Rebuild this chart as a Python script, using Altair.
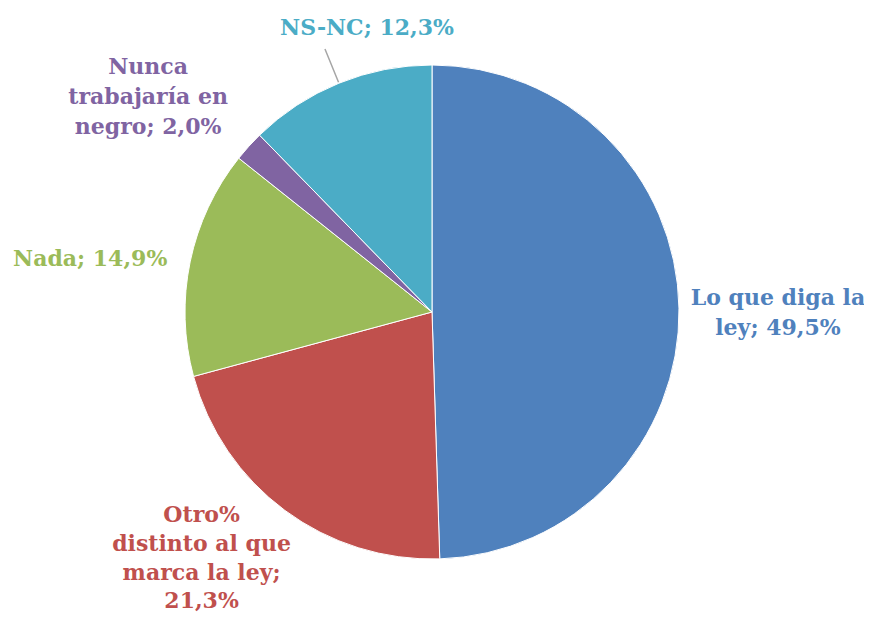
import altair as alt
import pandas as pd

categories = ["Lo que diga la ley", "Otro% distinto al que marca la ley", "Nada",
              "Nunca trabajaría en negro", "NS-NC"]
values = [49.5, 21.3, 14.9, 2.0, 12.3]
labels = ["Lo que diga la\nley; 49,5%", "Otro%\ndistinto al que\nmarca la ley;\n21,3%",
          "Nada; 14,9%", "Nunca\ntrabajaría en\nnegro; 2,0%", "NS-NC; 12,3%"]
colors = ["#4F81BD", "#C0504D", "#9BBB59", "#8064A2", "#4BACC6"]

df = pd.DataFrame({"cat": categories, "value": values, "label": labels,
                   "idx": list(range(len(categories)))})

theta_scale = alt.Scale(domain=[0, 100])
color = alt.Color("cat:N", scale=alt.Scale(domain=categories, range=colors), legend=None)

base = alt.Chart(df)
pie = base.mark_arc(outerRadius=247, stroke="white", strokeWidth=1).encode(
    theta=alt.Theta("value:Q", stack=True, scale=theta_scale),
    color=color,
    order=alt.Order("idx:O"),
)

lab = base.transform_window(
    cum="sum(value)", sort=[alt.SortField("idx")]
).transform_calculate(mid="datum.cum - datum.value / 2")

leader = lab.transform_filter(alt.datum.cat == "NS-NC").mark_arc(
    radius=248, radius2=284, stroke="#A6A6A6", strokeWidth=1.5, fillOpacity=0
).encode(
    theta=alt.Theta("mid:Q", stack=False, scale=theta_scale),
    theta2="mid:Q",
)

offsets = {
    "Lo que diga la ley": (1, -9, 30),
    "Otro% distinto al que marca la ley": (-25, -74, 28.7),
    "Nada": (-4, 17, 30),
    "Nunca trabajaría en negro": (-28, -14, 30),
    "NS-NC": (65, 36, 30),
}

texts = []
for c in categories:
    dx, dy, lh = offsets[c]
    texts.append(
        lab.transform_filter(alt.datum.cat == c).mark_text(
            radius=345, dx=dx, dy=dy, font="DejaVu Serif", fontWeight="bold",
            fontSize=22, lineBreak="\n", lineHeight=lh, align="center", baseline="middle"
        ).encode(
            theta=alt.Theta("mid:Q", stack=False, scale=theta_scale),
            text="label:N",
            color=color,
        )
    )

chart = alt.layer(pie, leader, *texts).properties(
    width=848, height=602,
    padding={"top": 3, "left": 0, "right": 8, "bottom": 0},
    autosize=alt.AutoSizeParams(type="none"),
).configure_view(stroke=None)

chart.save("out.html", embed_options={"renderer": "svg", "actions": False})
